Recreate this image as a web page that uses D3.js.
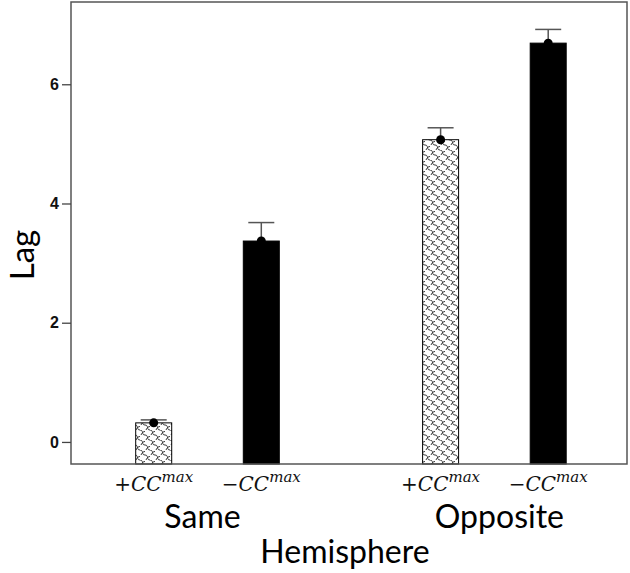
<!DOCTYPE html>
<html>
<head>
<meta charset="utf-8">
<script src="https://cdn.jsdelivr.net/npm/d3@7"></script>
<style>
  body { margin: 0; background: #fff; }
  svg { display: block; }
</style>
</head>
<body>
<svg id="chart" width="630" height="573"></svg>
<script>
// Data
const groups = ["Same", "Opposite"];
const subgroups = ["+", "\u2212"];
const means = [[0.32, 3.37], [5.07, 6.69]];
const errTop = [[0.37, 3.68], [5.27, 6.92]];
const yTicks = [0, 2, 4, 6];

const svg = d3.select("#chart");
const m = { left: 71, right: 3, top: 2, bottom: 109 };
const W = 630, H = 573;
const barW = 36;

const y = d3.scaleLinear().domain([-0.37, 7.38]).range([H - m.bottom, m.top]);
const x0 = d3.scalePoint().domain(groups).range([207.5, 494.4]);
const x1 = d3.scalePoint().domain(subgroups).range([-53.8, 53.8]);

// wavy scale pattern for the + bars
const defs = svg.append("defs");
const pat = defs.append("pattern")
  .attr("id", "waves").attr("patternUnits", "userSpaceOnUse")
  .attr("width", 10).attr("height", 10);
pat.append("rect").attr("width", 10).attr("height", 10).attr("fill", "#fff");
pat.append("path")
  .attr("d", "M0,0 C4,0 1,5 5,5 C9,5 6,10 10,10 M-5,5 C-1,5 -4,10 0,10 M5,-5 C9,-5 6,0 10,0 M1,5 C2,2.5 3.5,1.5 5,1.5 M6,10 C7,7.5 8.5,6.5 10,6.5 M-4,10 C-3,7.5 -1.5,6.5 0,6.5")
  .attr("fill", "none").attr("stroke", "#222").attr("stroke-width", 0.9);

const rows = [];
groups.forEach((g, gi) => subgroups.forEach((s, si) => rows.push({ g, s, gi, si, v: means[gi][si], e: errTop[gi][si] })));

const cx = d => x0(d.g) + x1(d.s);

svg.append("g").selectAll("rect").data(rows).join("rect")
  .attr("x", d => cx(d) - barW / 2)
  .attr("width", barW)
  .attr("y", d => y(d.v))
  .attr("height", d => y(-0.37) - y(d.v))
  .attr("fill", d => d.si === 0 ? "url(#waves)" : "#000")
  .attr("stroke", "#000").attr("stroke-width", 1);

// error bars
const eb = svg.append("g").attr("stroke", "#555").attr("stroke-width", 1.5);
eb.selectAll(".v").data(rows).join("line")
  .attr("x1", cx).attr("x2", cx)
  .attr("y1", d => y(d.v)).attr("y2", d => y(d.e));
eb.selectAll(".c").data(rows).join("line")
  .attr("x1", d => cx(d) - 13).attr("x2", d => cx(d) + 13)
  .attr("y1", d => y(d.e)).attr("y2", d => y(d.e));

// mean dots
svg.append("g").selectAll("circle").data(rows).join("circle")
  .attr("cx", cx).attr("cy", d => y(d.v)).attr("r", 4.5).attr("fill", "#000");

// frame
svg.append("rect")
  .attr("x", m.left).attr("y", m.top)
  .attr("width", W - m.right - m.left).attr("height", H - m.bottom - m.top)
  .attr("fill", "none").attr("stroke", "#555").attr("stroke-width", 1.5);

// y axis
const ya = svg.append("g").attr("transform", `translate(${m.left},0)`)
  .call(d3.axisLeft(y).tickValues(yTicks).tickSize(9).tickPadding(3));
ya.select(".domain").remove();
ya.selectAll("line").attr("stroke", "#444").attr("stroke-width", 1.3);
ya.selectAll("text").attr("font-family", "Liberation Sans, Arial, sans-serif")
  .attr("font-weight", "bold").attr("font-size", 16).attr("fill", "#111");

// subgroup labels
const lab = svg.append("g").selectAll("text").data(rows).join("text")
  .attr("x", cx).attr("y", 491)
  .attr("text-anchor", "middle")
  .attr("font-family", "DejaVu Serif, Liberation Serif, serif")
  .attr("font-style", "italic").attr("font-size", 20).attr("fill", "#111");
lab.append("tspan").text(d => d.s + "CC");
lab.append("tspan").attr("dy", -9).attr("font-size", 15).text("max");

// group labels
svg.append("g").selectAll("text").data(groups).join("text")
  .attr("x", d => x0(d) + (d === "Same" ? -5 : 5)).attr("y", 528)
  .attr("text-anchor", "middle")
  .attr("font-family", "Lato, Open Sans, sans-serif").attr("font-size", 32).attr("fill", "#000")
  .text(d => d);

svg.append("text")
  .attr("x", 345).attr("y", 563)
  .attr("text-anchor", "middle")
  .attr("font-family", "Lato, Open Sans, sans-serif").attr("font-size", 32).attr("fill", "#000")
  .text("Hemisphere");

svg.append("text")
  .attr("transform", `translate(34,255) rotate(-90)`)
  .attr("text-anchor", "middle")
  .attr("font-family", "Lato, Open Sans, sans-serif").attr("font-size", 33).attr("fill", "#000")
  .text("Lag");
</script>
</body>
</html>
